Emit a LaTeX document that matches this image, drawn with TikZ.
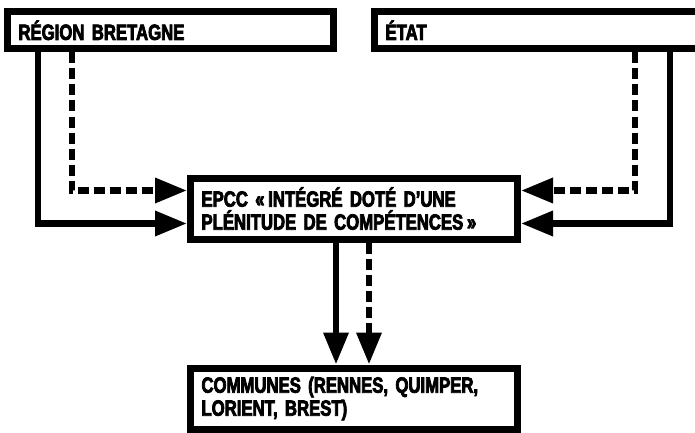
\documentclass[tikz,border=0pt]{standalone}
\usepackage{fontspec}
\setmainfont{Liberation Sans}[FakeStretch=0.76,FakeBold=3.5]
\usetikzlibrary{arrows.meta,positioning,calc}
\begin{document}
\begin{tikzpicture}[x=1pt,y=-1pt,
      font=\fontsize{22}{23}\selectfont\bfseries,
      box/.style={draw,line width=7pt,align=left,inner xsep=11pt,inner ysep=0pt},
      topbox/.style={box,text width=304pt,minimum height=37.5pt},
      midbox/.style={box,text width=305pt,minimum height=61pt},
      arr/.style={line width=6.5pt,-{Triangle[length=32pt,width=24pt]}},
      darr/.style={arr,dash pattern=on 11pt off 5pt}]
    \useasboundingbox (0,0) rectangle (695,433);
    \node[topbox] (region) at (170.5,30.25) {RÉGION BRETAGNE};
    \node[topbox,right=34pt of region] (etat) {ÉTAT};
    \coordinate (top) at ($(region.south)!0.5!(etat.south)$);
    \node[midbox,below=122pt of top] (epcc) {EPCC «\,INTÉGRÉ DOTÉ D’UNE\\PLÉNITUDE DE COMPÉTENCES\,»};
    \node[midbox,below=122pt of epcc] (communes) {COMMUNES (RENNES, QUIMPER,\\LORIENT, BREST)};
    \draw[arr] ([xshift=34pt]region.south west) |- ([yshift=-15pt]epcc.west);
    \draw[darr] ([xshift=68pt]region.south west) |- ([yshift=18pt]epcc.west);
    \draw[arr] ([xshift=299pt]etat.south west) |- ([yshift=-15pt]epcc.east);
    \draw[darr] ([xshift=264pt]etat.south west) |- ([yshift=18pt]epcc.east);
    \draw[arr] ([xshift=-18pt]epcc.south) -- ([xshift=-18pt]communes.north);
    \draw[darr] ([xshift=15pt]epcc.south) -- ([xshift=15pt]communes.north);
  \end{tikzpicture}
\end{document}
